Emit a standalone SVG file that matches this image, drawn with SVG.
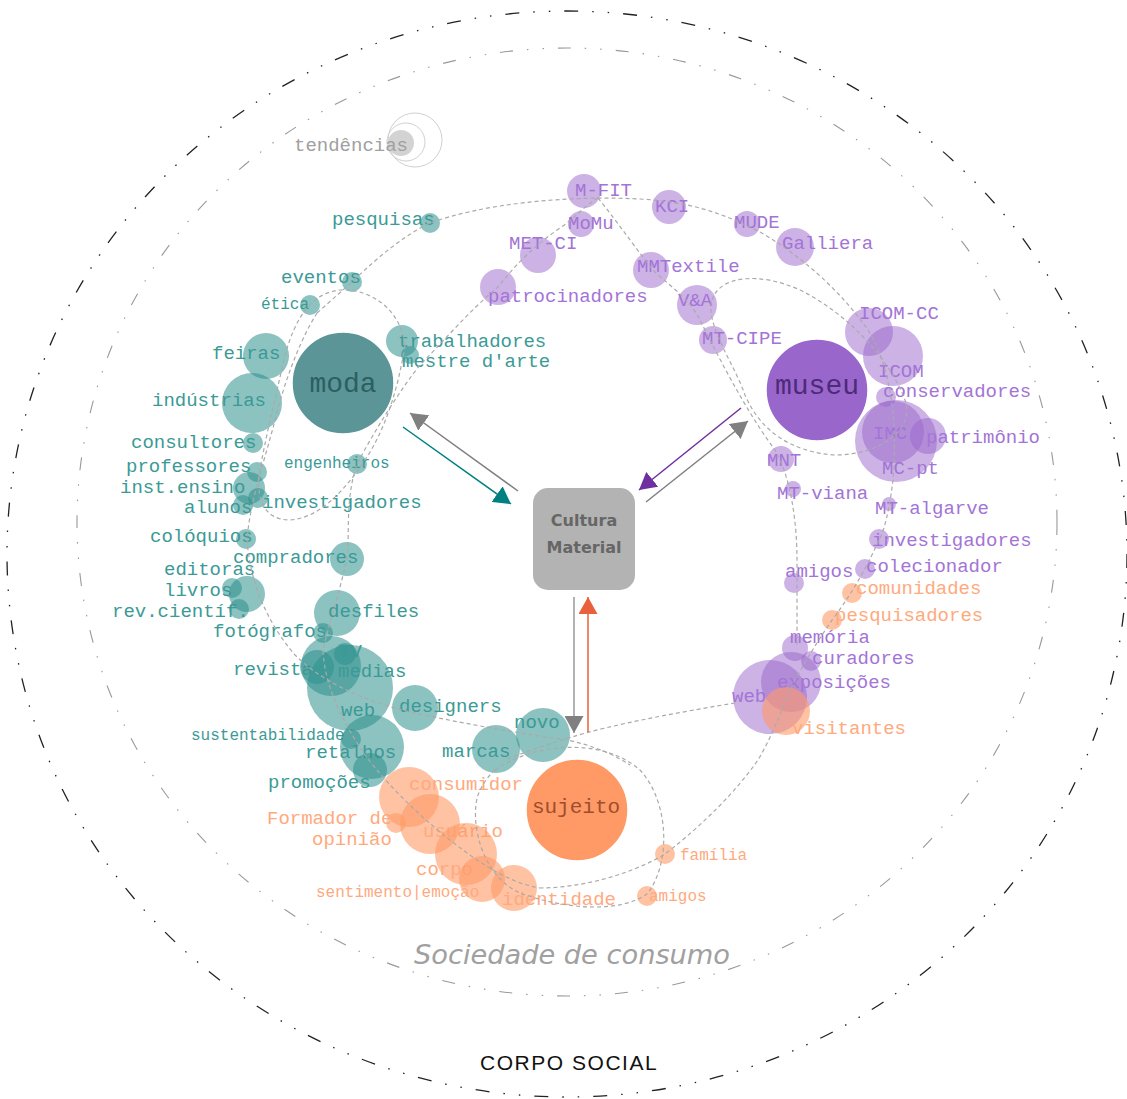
<svg xmlns="http://www.w3.org/2000/svg" width="1127" height="1099" viewBox="0 0 1127 1099">
<style>
.t{font-family:"Liberation Mono","Courier New",monospace;font-size:19px}
.s{font-size:16px}
.tl{fill:#3b9a96}.pl{fill:#a374d6}.ol{fill:#ffa97e}
.ct{fill:#2e8f8c;fill-opacity:.55}.cp{fill:#9966cc;fill-opacity:.5}.co{fill:#ff9966;fill-opacity:.6}
.dash{fill:none;stroke:#aaa;stroke-width:1.2;stroke-dasharray:4 3}
.ar{fill:none;stroke-width:1.5}
</style>
<defs>
<marker id="aT" viewBox="0 0 17 19" refX="17" refY="9.5" markerWidth="17" markerHeight="19" markerUnits="userSpaceOnUse" orient="auto"><path d="M0,0 L17,9.5 L0,19 Z" fill="#008080"/></marker>
<marker id="aG" viewBox="0 0 17 19" refX="17" refY="9.5" markerWidth="17" markerHeight="19" markerUnits="userSpaceOnUse" orient="auto"><path d="M0,0 L17,9.5 L0,19 Z" fill="#808080"/></marker>
<marker id="aP" viewBox="0 0 17 19" refX="17" refY="9.5" markerWidth="17" markerHeight="19" markerUnits="userSpaceOnUse" orient="auto"><path d="M0,0 L17,9.5 L0,19 Z" fill="#702fa0"/></marker>
<marker id="aO" viewBox="0 0 17 19" refX="17" refY="9.5" markerWidth="17" markerHeight="19" markerUnits="userSpaceOnUse" orient="auto"><path d="M0,0 L17,9.5 L0,19 Z" fill="#e8603c"/></marker>
</defs>
<rect width="1127" height="1099" fill="#fff"/>
<g id="frame">
<ellipse cx="567" cy="554" rx="560" ry="543" fill="none" stroke="#222" stroke-width="1.3" stroke-dasharray="14 14 1.5 14 1.5 14"/>
<ellipse cx="567" cy="522" rx="490" ry="474" fill="none" stroke="#999" stroke-width="1.1" stroke-dasharray="13 14 1.5 14 1.5 14"/>
<text x="414" y="964" font-family="DejaVu Sans, sans-serif" font-style="italic" font-weight="200" font-size="26" fill="#a0a0a0" textLength="316" lengthAdjust="spacingAndGlyphs">Sociedade de consumo</text>
<text x="480" y="1070" font-family="Liberation Sans, Arial, sans-serif" font-size="21" fill="#111" letter-spacing="1.3" textLength="178">CORPO SOCIAL</text>
</g>
<g id="n-tendencias">
<circle cx="415" cy="140" r="27" fill="none" stroke="#d0d0d0" stroke-width="1"/>
<circle cx="406" cy="142" r="19" fill="none" stroke="#d0d0d0" stroke-width="1"/>
<circle cx="401" cy="143" r="13" fill="#d3d3d3"/>
<text class="t" x="294" y="151" fill="#a0a0a0">tendências</text>
</g>
<g id="teal">
<g id="n-moda"><circle cx="343" cy="383" r="51" fill="#5b9598" stroke="#fff" stroke-width="1.5"/><text x="343" y="392" text-anchor="middle" font-family="Liberation Mono, monospace" font-size="28" fill="#2c5f61">moda</text></g>
<g id="n-trabalhadores"><circle class="ct" cx="402" cy="341" r="16"/><text class="t tl" x="398" y="347">trabalhadores</text></g>
<g id="n-mestre"><circle class="ct" cx="410" cy="355" r="9"/><text class="t tl" x="402" y="367">mestre d'arte</text></g>
<g id="n-feiras"><circle class="ct" cx="266" cy="356" r="23"/><text class="t tl" x="212" y="359">feiras</text></g>
<g id="n-industrias"><circle class="ct" cx="252" cy="403" r="30"/><text class="t tl" x="152" y="406">indústrias</text></g>
<g id="n-consultores"><circle class="ct" cx="253" cy="443" r="10"/><text class="t tl" x="131" y="448">consultores</text></g>
<g id="n-professores"><circle class="ct" cx="257" cy="472" r="10"/><text class="t tl" x="126" y="472">professores</text></g>
<g id="n-inst"><circle class="ct" cx="249" cy="488" r="16"/><text class="t tl" x="120" y="493">inst.ensino</text></g>
<g id="n-alunos"><circle class="ct" cx="243" cy="505" r="10"/><text class="t tl" x="184" y="513">alunos</text></g>
<g id="n-investigadores-t"><circle class="ct" cx="258" cy="498" r="10"/><text class="t tl" x="262" y="508">investigadores</text></g>
<g id="n-engenheiros"><circle class="ct" cx="357" cy="464" r="10"/><text class="t s tl" x="284" y="468">engenheiros</text></g>
<g id="n-coloquios"><circle class="ct" cx="246" cy="539" r="10"/><text class="t tl" x="150" y="542">colóquios</text></g>
<g id="n-etica"><circle class="ct" cx="310" cy="305" r="10"/><text class="t s tl" x="261" y="309">ética</text></g>
<g id="n-eventos"><circle class="ct" cx="352" cy="282" r="10"/><text class="t tl" x="281" y="283">eventos</text></g>
<g id="n-pesquisas"><circle class="ct" cx="430" cy="223" r="10"/><text class="t tl" x="332" y="225">pesquisas</text></g>
<g id="n-compradores"><circle class="ct" cx="347" cy="559" r="17"/><text class="t tl" x="233" y="563">compradores</text></g>
<g id="n-editoras"><circle class="ct" cx="247" cy="594" r="18"/><text class="t tl" x="164" y="575">editoras</text></g>
<g id="n-livros"><circle class="ct" cx="232" cy="588" r="10"/><text class="t tl" x="164" y="596">livros</text></g>
<g id="n-rev"><circle class="ct" cx="239" cy="609" r="10"/><text class="t tl" x="112" y="617">rev.científ.</text></g>
<g id="n-desfiles"><circle class="ct" cx="337" cy="613" r="23"/><text class="t tl" x="328" y="617">desfiles</text></g>
<g id="n-fotografos"><circle class="ct" cx="323" cy="633" r="10"/><text class="t tl" x="213" y="637">fotógrafos</text></g>
<g id="n-medias"><circle class="ct" cx="350" cy="688" r="43"/><circle class="ct" cx="331" cy="666" r="30"/><text class="t tl" x="338" y="677">medias</text></g>
<g id="n-revistas"><circle class="ct" cx="317" cy="667" r="17"/><text class="t tl" x="233" y="675">revistas</text></g>
<g id="n-tv"><circle class="ct" cx="345" cy="654" r="11"/><text class="t tl" x="339" y="657">TV</text></g>
<g id="n-web-t"><text class="t tl" x="341" y="716" font-size="18">web</text></g>
<g id="n-designers"><circle class="ct" cx="415" cy="708" r="23"/><text class="t tl" x="399" y="712">designers</text></g>
<g id="n-sustentabilidade"><circle class="ct" cx="351" cy="739" r="10"/><text class="t s tl" x="191" y="740">sustentabilidade</text></g>
<g id="n-retalhos"><circle class="ct" cx="372" cy="747" r="32"/><text class="t tl" x="305" y="758">retalhos</text></g>
<g id="n-promocoes"><circle class="ct" cx="370" cy="770" r="17"/><text class="t tl" x="268" y="788">promoções</text></g>
<g id="n-marcas"><circle class="ct" cx="496" cy="749" r="24"/><text class="t tl" x="442" y="757">marcas</text></g>
<g id="n-novo"><circle class="ct" cx="543" cy="735" r="27"/><text class="t tl" x="514" y="728">novo</text></g>
</g>
<g id="purple">
<g id="n-museu"><circle cx="817" cy="390" r="51" fill="#9966cc" stroke="#fff" stroke-width="1.5"/><text x="817" y="394" text-anchor="middle" font-family="Liberation Mono, monospace" font-size="28" fill="#4e2a78">museu</text></g>
<g id="n-mfit"><circle class="cp" cx="584" cy="191" r="17"/><text class="t pl" x="575" y="196">M-FIT</text></g>
<g id="n-momu"><circle class="cp" cx="581" cy="224" r="13"/><text class="t pl" x="568" y="229">MoMu</text></g>
<g id="n-metci"><circle class="cp" cx="538" cy="255" r="18"/><text class="t pl" x="509" y="249">MET-CI</text></g>
<g id="n-patrocinadores"><circle class="cp" cx="498" cy="287" r="18"/><text class="t pl" x="488" y="302">patrocinadores</text></g>
<g id="n-kci"><circle class="cp" cx="669" cy="207" r="17"/><text class="t pl" x="655" y="212">KCI</text></g>
<g id="n-mude"><circle class="cp" cx="747" cy="224" r="13"/><text class="t pl" x="734" y="228">MUDE</text></g>
<g id="n-galliera"><circle class="cp" cx="795" cy="247" r="19"/><text class="t pl" x="782" y="249">Galliera</text></g>
<g id="n-mmtextile"><circle class="cp" cx="651" cy="270" r="18"/><text class="t pl" x="637" y="272">MMTextile</text></g>
<g id="n-va"><circle class="cp" cx="697" cy="305" r="20"/><text class="t pl" x="678" y="306">V&amp;A</text></g>
<g id="n-mtcipe"><circle class="cp" cx="713" cy="340" r="14"/><text class="t pl" x="702" y="344">MT-CIPE</text></g>
<g id="n-icomcc"><circle class="cp" cx="869" cy="332" r="24"/><text class="t pl" x="859" y="319">ICOM-CC</text></g>
<g id="n-icom"><circle class="cp" cx="893" cy="356" r="30"/><text class="t pl" x="878" y="377">ICOM</text></g>
<g id="n-conservadores"><circle class="cp" cx="886" cy="397" r="10"/><text class="t pl" x="883" y="397">conservadores</text></g>
<g id="n-mcpt"><circle class="cp" cx="896" cy="441" r="41"/><text class="t pl" x="882" y="474">MC-pt</text></g>
<g id="n-imc"><circle class="cp" cx="893" cy="432" r="31"/><text class="t pl" x="873" y="439">IMC</text></g>
<g id="n-patrimonio"><circle class="cp" cx="928" cy="436" r="18"/><text class="t pl" x="926" y="443">patrimônio</text></g>
<g id="n-mnt"><circle class="cp" cx="781" cy="459" r="13"/><text class="t pl" x="767" y="466">MNT</text></g>
<g id="n-mtviana"><circle class="cp" cx="793" cy="489" r="8"/><text class="t pl" x="777" y="499">MT-viana</text></g>
<g id="n-mtalgarve"><circle class="cp" cx="889" cy="504" r="7"/><text class="t pl" x="875" y="514">MT-algarve</text></g>
<g id="n-investigadores-p"><circle class="cp" cx="879" cy="539" r="10"/><text class="t pl" x="872" y="546">investigadores</text></g>
<g id="n-colecionador"><circle class="cp" cx="865" cy="569" r="10"/><text class="t pl" x="866" y="572">colecionador</text></g>
<g id="n-amigos-p"><circle class="cp" cx="794" cy="583" r="10"/><text class="t pl" x="785" y="577">amigos</text></g>
<g id="n-memoria"><circle class="cp" cx="795" cy="648" r="13"/><text class="t pl" x="790" y="643">memória</text></g>
<g id="n-curadores"><circle class="cp" cx="811" cy="661" r="10"/><text class="t pl" x="812" y="664">curadores</text></g>
<g id="n-web-p"><circle class="cp" cx="770" cy="697" r="37"/><text class="t pl" x="732" y="702" font-size="18">web</text></g>
<g id="n-exposicoes"><circle class="cp" cx="791" cy="682" r="30"/><text class="t pl" x="777" y="688">exposições</text></g>
</g>
<g id="orange">
<g id="n-sujeito"><circle cx="577" cy="810" r="51" fill="#ff9966" stroke="#fff" stroke-width="1.5"/><text x="576" y="813" text-anchor="middle" font-family="Liberation Mono, monospace" font-size="21" fill="#9e4e2e">sujeito</text></g>
<g id="n-visitantes"><circle class="co" cx="786" cy="711" r="24"/><text class="t ol" x="792" y="734">visitantes</text></g>
<g id="n-comunidades"><circle class="co" cx="852" cy="593" r="10"/><text class="t ol" x="856" y="594">comunidades</text></g>
<g id="n-pesquisadores"><circle class="co" cx="832" cy="620" r="10"/><text class="t ol" x="835" y="621">pesquisadores</text></g>
<g id="n-consumidor"><circle class="co" cx="409" cy="797" r="30"/><text class="t ol" x="409" y="790">consumidor</text></g>
<g id="n-formador"><circle class="co" cx="396" cy="823" r="10"/><text class="t ol" x="267" y="824">Formador de</text><text class="t ol" x="312" y="845">opinião</text></g>
<g id="n-usuario"><circle class="co" cx="430" cy="824" r="30"/><text class="t ol" x="423" y="837">usuário</text></g>
<g id="n-corpo"><circle class="co" cx="466" cy="854" r="31"/><text class="t ol" x="416" y="875">corpo</text></g>
<g id="n-sentimento"><circle class="co" cx="482" cy="879" r="23"/><text class="t s ol" x="316" y="897">sentimento|emoção</text></g>
<g id="n-identidade"><circle class="co" cx="514" cy="888" r="23"/><text class="t ol" x="502" y="905" font-size="17">identidade</text></g>
<g id="n-familia"><circle class="co" cx="665" cy="854" r="10"/><text class="t s ol" x="680" y="860">família</text></g>
<g id="n-amigos-o"><circle class="co" cx="647" cy="896" r="10"/><text class="t s ol" x="649" y="901">amigos</text></g>
</g>
<g id="n-cultura">
<rect x="533" y="488" width="102" height="102" rx="15" fill="#b3b3b3"/>
<text x="584" y="526" text-anchor="middle" font-family="DejaVu Sans, sans-serif" font-weight="bold" font-size="16" fill="#666">Cultura</text>
<text x="584" y="553" text-anchor="middle" font-family="DejaVu Sans, sans-serif" font-weight="bold" font-size="16" fill="#666">Material</text>
</g>
<g id="connectors">
<path class="dash" d="M317,313 L352,282 C380,255 405,235 430,223 C480,205 560,195 640,199 C690,202 720,212 760,232 C800,255 840,290 868,330 C890,365 898,420 893,480 C890,505 885,530 879,540 C870,560 855,590 832,620 C815,645 800,670 790,690 C780,715 770,740 758,760 C730,800 690,835 665,854 C630,875 580,888 540,888"/>
<path class="dash" d="M317,313 C300,340 285,380 275,420 C265,460 250,500 247,540 C250,580 265,620 295,655 C320,680 360,700 410,712 C470,725 530,735 567,740 C590,745 610,752 630,765"/>
<path class="dash" d="M598,198 C585,205 575,218 560,228 C535,245 515,265 498,287 C470,310 440,345 420,365 C400,390 375,430 357,464 C345,500 350,530 347,559 C340,590 330,620 323,650 C325,690 345,725 365,755 C395,795 440,835 480,862 C500,875 520,885 540,888"/>
<path class="dash" d="M405,345 C400,305 365,288 340,290 C310,293 295,320 285,355 C275,400 265,440 260,470 C255,500 265,520 290,520 C320,518 345,490 365,460 C385,430 398,390 405,345 Z"/>
<path class="dash" d="M712,300 C720,275 760,272 800,290 C850,315 890,360 905,400 C915,430 880,455 835,455 C790,452 760,430 745,395 C735,365 705,325 712,300 Z"/>
<path class="dash" d="M598,198 C620,225 640,255 655,272 C675,290 690,300 700,320 C715,350 745,410 775,450 C790,475 797,520 797,560 L797,645"/>
<path class="dash" d="M735,703 C680,712 610,725 572,737 C545,745 525,752 505,760"/>
<path class="dash" d="M495,770 C530,745 600,735 640,770 C668,800 672,860 648,893 C620,915 560,908 520,893 C480,875 470,820 478,795 C482,785 488,776 495,770 Z"/>
<line class="ar" x1="403" y1="427" x2="511" y2="504" stroke="#008080" marker-end="url(#aT)"/>
<line class="ar" x1="518" y1="491" x2="410" y2="413" stroke="#808080" marker-end="url(#aG)"/>
<line class="ar" x1="741" y1="408" x2="639" y2="490" stroke="#702fa0" marker-end="url(#aP)"/>
<line class="ar" x1="646" y1="502" x2="748" y2="421" stroke="#808080" marker-end="url(#aG)"/>
<line class="ar" x1="574" y1="597" x2="574" y2="733" stroke="#999" marker-end="url(#aG)"/>
<line class="ar" x1="588" y1="732" x2="588" y2="597" stroke="#e8603c" marker-end="url(#aO)"/>
</g>
</svg>
